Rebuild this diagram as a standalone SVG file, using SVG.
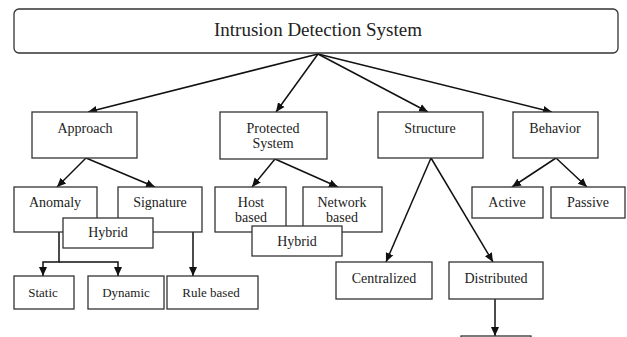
<svg xmlns="http://www.w3.org/2000/svg" width="627" height="337" viewBox="0 0 627 337">
<style>
.box{fill:#fff;stroke:#333;stroke-width:1.3}
text{font-family:'Liberation Serif','DejaVu Serif',serif;font-size:14px;fill:#222;text-anchor:middle}
.s{font-size:13px}
.c{fill:none;stroke:#111;stroke-width:1.5}
</style>
<defs>
<marker id="ah" markerUnits="userSpaceOnUse" markerWidth="10" markerHeight="10" viewBox="0 0 10 10" refX="9" refY="5" orient="auto">
<path d="M0,1 L9,5 L0,9 Z" fill="#111"/>
</marker>
</defs>
<rect width="627" height="337" fill="#fff"/>
<g id="connectors">
<path class="c" d="M318,54 L88,112" marker-end="url(#ah)"/>
<path class="c" d="M318,54 L276,112" marker-end="url(#ah)"/>
<path class="c" d="M318,54 L428,112" marker-end="url(#ah)"/>
<path class="c" d="M318,54 L552,112" marker-end="url(#ah)"/>
<path class="c" d="M86,158 L57,187" marker-end="url(#ah)"/>
<path class="c" d="M86,158 L155,187" marker-end="url(#ah)"/>
<path class="c" d="M275,159 L252,187" marker-end="url(#ah)"/>
<path class="c" d="M275,159 L338,187" marker-end="url(#ah)"/>
<path class="c" d="M431,158 L386,262" marker-end="url(#ah)"/>
<path class="c" d="M431,158 L493,262" marker-end="url(#ah)"/>
<path class="c" d="M556,158 L512,187" marker-end="url(#ah)"/>
<path class="c" d="M556,158 L587,187" marker-end="url(#ah)"/>
<path class="c" d="M59,232 V262 H43 V276" marker-end="url(#ah)"/>
<path class="c" d="M59,262 H118 V276" marker-end="url(#ah)"/>
<path class="c" d="M193,232 V276" marker-end="url(#ah)"/>
<path class="c" d="M495,299 V336" marker-end="url(#ah)"/>
</g>
<g id="ids"><rect class="box" x="14" y="9" width="604" height="44" rx="5"/><text x="318" y="36" style="font-size:18px" textLength="208" lengthAdjust="spacingAndGlyphs">Intrusion Detection System</text></g>
<g id="approach"><rect class="box" x="32" y="112" width="105" height="46"/><text x="85" y="133">Approach</text></g>
<g id="protected"><rect class="box" x="220" y="112" width="107" height="47"/><text x="273" y="133">Protected</text><text x="273" y="148">System</text></g>
<g id="structure"><rect class="box" x="378" y="112" width="105" height="46"/><text x="430" y="133">Structure</text></g>
<g id="behavior"><rect class="box" x="513" y="112" width="85" height="46"/><text x="555" y="133">Behavior</text></g>
<g id="anomaly"><rect class="box" x="14" y="187" width="83" height="45"/><text x="55" y="207">Anomaly</text></g>
<g id="signature"><rect class="box" x="118" y="187" width="84" height="45"/><text x="160" y="207">Signature</text></g>
<g id="hybrid1"><rect class="box" x="63" y="218" width="90" height="30"/><text x="108" y="237">Hybrid</text></g>
<g id="host"><rect class="box" x="215" y="187" width="71" height="45"/><text x="251" y="207">Host</text><text x="251" y="222">based</text></g>
<g id="network"><rect class="box" x="303" y="187" width="79" height="45"/><text x="342" y="207">Network</text><text x="342" y="222">based</text></g>
<g id="hybrid2"><rect class="box" x="252" y="226" width="90" height="30"/><text x="297" y="246">Hybrid</text></g>
<g id="active"><rect class="box" x="472" y="187" width="71" height="31"/><text x="507" y="207">Active</text></g>
<g id="passive"><rect class="box" x="551" y="187" width="74" height="31"/><text x="588" y="207">Passive</text></g>
<g id="static"><rect class="box" x="14" y="276" width="60" height="33"/><text class="s" x="43" y="297">Static</text></g>
<g id="dynamic"><rect class="box" x="88" y="276" width="76" height="33"/><text class="s" x="126" y="297">Dynamic</text></g>
<g id="rulebased"><rect class="box" x="167" y="276" width="91" height="33"/><text class="s" x="211" y="297">Rule based</text></g>
<g id="centralized"><rect class="box" x="336" y="262" width="96" height="37"/><text x="384" y="283">Centralized</text></g>
<g id="distributed"><rect class="box" x="449" y="262" width="94" height="37"/><text x="496" y="283">Distributed</text></g>
<g id="cutbox"><rect class="box" x="461" y="336" width="70" height="20"/></g>
</svg>
